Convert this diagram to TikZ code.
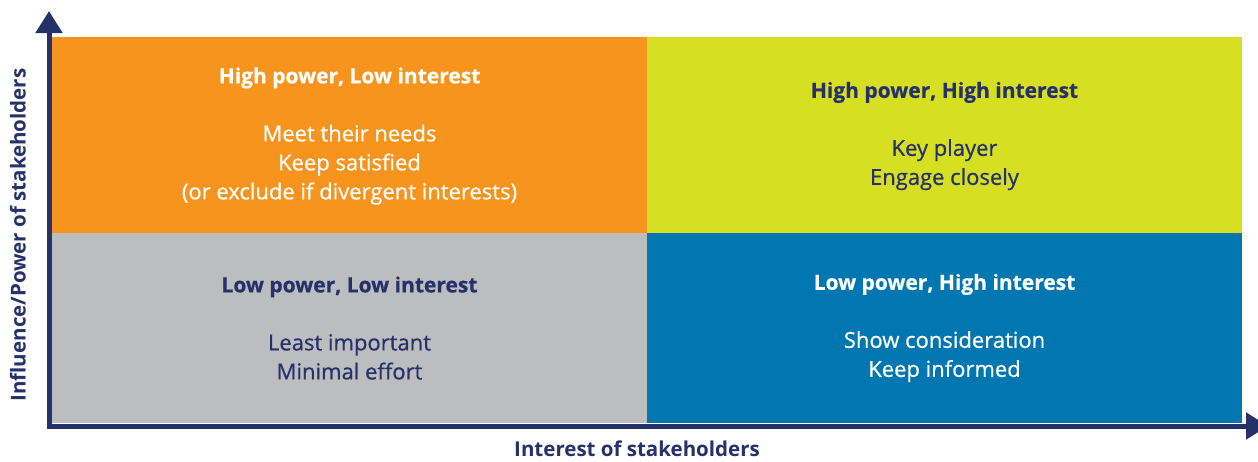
\documentclass[tikz,border=0pt]{standalone}
\usepackage{fontspec}
\setmainfont{Open Sans}
\newfontfamily\bodyfont[FakeBold=0.6]{Open Sans}
\usetikzlibrary{positioning,arrows.meta}
\definecolor{navy}{HTML}{263069}
\definecolor{hpli}{HTML}{F7941E}
\definecolor{hphi}{HTML}{D7DF23}
\definecolor{lpli}{HTML}{BCBDBF}
\definecolor{lphi}{HTML}{0077B0}
\newcommand{\head}[1]{{\fontsize{21}{29}\selectfont\bfseries #1}}
\begin{document}
\begin{tikzpicture}[x=1pt, y=-1pt, node distance=0pt,
    quad/.style = {rectangle, minimum width=595pt, inner sep=0pt, outer sep=0pt},
    txt/.style = {align=center, font=\bodyfont\fontsize{22}{29}\selectfont},
    axlab/.style = {text=navy, font=\fontsize{20.5}{24}\selectfont\bfseries},
    axis/.style = {draw=navy, line width=5pt, -{Triangle[length=22pt,width=26pt]}}]
    \useasboundingbox (0,0) rectangle (1258,461);
    % the four quadrants
    \node[quad, minimum height=196pt, fill=hpli] (hpli) at (349.5,135) {};
    \node[quad, minimum height=196pt, fill=hphi] (hphi) [right=of hpli] {};
    \node[quad, minimum height=190pt, fill=lpli] (lpli) [below=of hpli] {};
    \node[quad, minimum height=190pt, fill=lphi] (lphi) [below=of hphi] {};
    % their texts
    \node[txt, text=white] (hplit) at ([yshift=-1pt]hpli.center)
        {\head{High power, Low interest}\\[29pt] Meet their needs\\ Keep satisfied\\ (or exclude if divergent interests)};
    \node[txt, text=navy] (hphit) at ([yshift=-1pt]hphi.center)
        {\head{High power, High interest}\\[29pt] Key player\\ Engage closely};
    \node[txt, text=navy] (lplit) at ([yshift=0pt]lpli.center)
        {\head{Low power, Low interest}\\[29pt] Least important\\ Minimal effort};
    \node[txt, text=white] (lphit) at ([yshift=0pt]lphi.center)
        {\head{Low power, High interest}\\[29pt] Show consideration\\ Keep informed};
    % axes
    \coordinate (o) at (49,426);
    \coordinate (ytip) at (49,11);
    \coordinate (xtip) at (1268,426);
    \draw[axis] ([yshift=-2.5pt]o) -- (ytip);
    \draw[axis] ([xshift=-2.5pt]o) -- (xtip);
    \node[axlab] (xlab) at (637,449) {Interest of stakeholders};
    \node[axlab, rotate=90] (ylab) at (18,235) {Influence/Power of stakeholders};
\end{tikzpicture}
\end{document}
